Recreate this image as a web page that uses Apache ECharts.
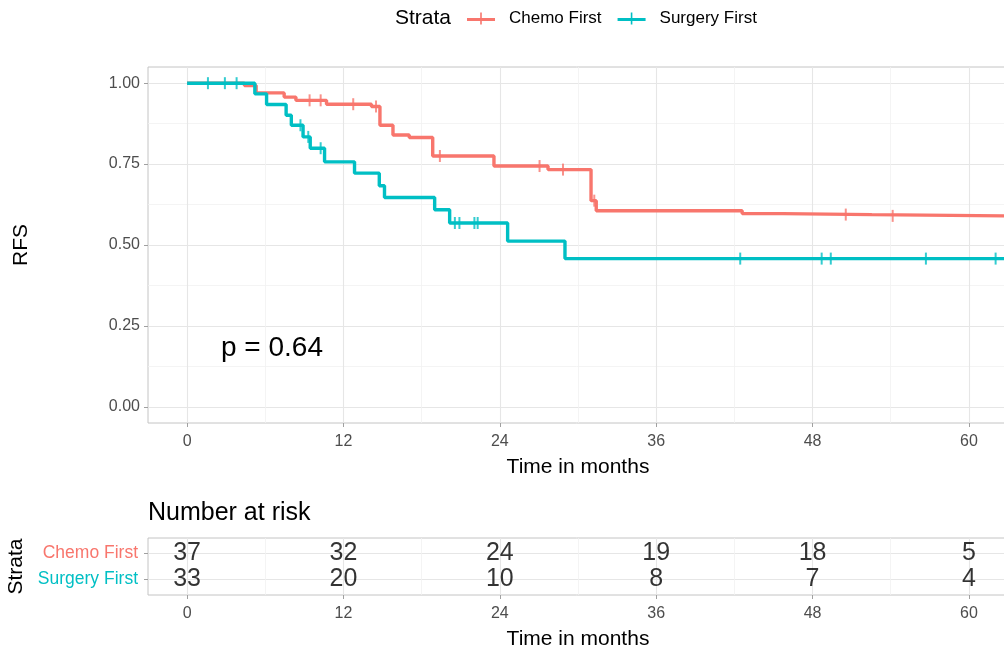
<!DOCTYPE html>
<html><head><meta charset="utf-8">
<script src="https://cdn.jsdelivr.net/npm/echarts@6/dist/echarts.min.js"></script>
<style>html,body{margin:0;padding:0;background:#fff}#c{width:1004px;height:651px}</style>
</head><body><div id="c"></div>
<script>
// ---------- data ----------
const strata = ['Chemo First', 'Surgery First'];
const strataColors = ['#F8766D', '#00BFC4'];

const chemoTimes = [0, 4.4, 5.3, 7.45, 8.35, 10.7, 14.15, 14.8, 15.8, 17.05, 18.85, 23.55, 27.7, 31.0, 31.4, 42.6, 45.7, 52.55, 63];
const chemoSurv  = [1, 0.993, 0.970, 0.957, 0.947, 0.935, 0.928, 0.870, 0.840, 0.832, 0.775, 0.744, 0.733, 0.637, 0.606, 0.597, 0.594, 0.590, 0.590];
const chemoCensor = [9.4, 10.25, 12.75, 14.5, 19.4, 27.05, 28.85, 31.25, 50.55, 54.15];

const surgeryTimes = [0, 5.2, 6.1, 7.6, 8.0, 8.9, 9.45, 10.55, 12.85, 14.75, 15.15, 19.0, 20.15, 24.6, 29.0, 63];
const surgerySurv  = [1, 0.967, 0.934, 0.901, 0.870, 0.834, 0.799, 0.757, 0.722, 0.683, 0.647, 0.609, 0.568, 0.512, 0.458, 0.458];
const surgeryCensor = [1.6, 2.9, 3.8, 8.7, 9.3, 10.25, 20.55, 20.9, 22.05, 22.3, 42.45, 48.7, 49.4, 56.7, 62.05];

const riskTimes = [0, 12, 24, 36, 48, 60];
const chemoRisk = [37, 32, 24, 19, 18, 5];
const surgeryRisk = [33, 20, 10, 8, 7, 4];

const xTicks = [0, 12, 24, 36, 48, 60];
const xMinorTicks = [6, 18, 30, 42, 54];
const yTicks = [0, 0.25, 0.5, 0.75, 1];
const yMinorTicks = [0.125, 0.375, 0.625, 0.875];
const pValueText = 'p = 0.64';

// ---------- helpers ----------
function pairs(t, s) { return t.map((v, i) => [v, s[i]]); }
function survAt(t, s, x) { let v = s[0]; for (let i = 0; i < t.length; i++) { if (t[i] <= x) v = s[i]; } return v; }
function censorPts(c, t, s) { return c.map(x => [x, survAt(t, s, x)]); }

const FONT = 'Liberation Sans, Arial, Helvetica, sans-serif';
const MAJOR = '#E6E6E6', MINOR = '#F1F1F1', BORDER = '#C4C4C4', TICK = '#A0A0A0', TXT = '#4D4D4D';
const XMIN = -3, XMAX = 63;

function xAxisMajor(gi) {
  return {
    type: 'value', gridIndex: gi, min: XMIN, max: XMAX, position: 'bottom',
    axisLine: { show: false, onZero: false },
    axisTick: { show: true, length: 4, customValues: xTicks, lineStyle: { color: TICK } },
    axisLabel: { customValues: xTicks, margin: 11, color: TXT, fontSize: 16, fontFamily: FONT },
    splitLine: { show: true, lineStyle: { color: MAJOR, width: 1.1 } },
    name: 'Time in months', nameLocation: 'middle', nameGap: 34,
    nameTextStyle: { color: '#000', fontSize: 21, fontFamily: FONT }
  };
}
function xAxisMinor(gi) {
  return {
    type: 'value', gridIndex: gi, min: XMIN, max: XMAX, position: 'bottom',
    axisLine: { show: false, onZero: false }, axisLabel: { show: false },
    axisTick: { show: false, customValues: xMinorTicks },
    splitLine: { show: true, lineStyle: { color: MINOR, width: 0.8 } }
  };
}

const series = [];
const survData = [[chemoTimes, chemoSurv, chemoCensor], [surgeryTimes, surgerySurv, surgeryCensor]];
survData.forEach((d, k) => {
  series.push({
    name: strata[k], type: 'line', xAxisIndex: 0, yAxisIndex: 0, step: 'end',
    data: pairs(d[0], d[1]), showSymbol: false, symbol: 'none', clip: true,
    color: strataColors[k], lineStyle: { color: strataColors[k], width: 3.4 }, z: 3 + k
  });
  series.push({
    name: strata[k], type: 'scatter', xAxisIndex: 0, yAxisIndex: 0,
    data: censorPts(d[2], d[0], d[1]), symbol: 'rect', symbolSize: [2, 12],
    color: strataColors[k], itemStyle: { color: strataColors[k] }, z: 5 + k
  });
});
const riskRows = [chemoRisk, surgeryRisk];
const rowPos = [2, 1];
series.push({
  name: 'risk', type: 'scatter', xAxisIndex: 2, yAxisIndex: 2,
  data: [].concat(...riskRows.map((r, k) => r.map((n, i) => [riskTimes[i], rowPos[k], n]))),
  symbolSize: 1, itemStyle: { color: 'rgba(0,0,0,0)' },
  label: { show: true, position: 'inside', formatter: p => String(p.value[2]), color: '#000', textBorderWidth: 0, fontSize: 25, fontFamily: FONT }
});

const option = {
  animation: false,
  backgroundColor: '#fff',
  textStyle: { fontFamily: FONT },
  title: {
    text: 'Number at risk', left: 148, top: 501, padding: 0,
    textStyle: { fontSize: 25, fontWeight: 'normal', color: '#000', fontFamily: FONT }
  },
  legend: {
    left: 467, top: 10, padding: 0, itemGap: 16, itemWidth: 28, itemHeight: 12,
    data: strata.map(s => ({ name: s, icon: 'path://M0,5.5L28,5.5L28,8.5L0,8.5Z M13.2,0L14.8,0L14.8,12L13.2,12Z' })),
    textStyle: { fontSize: 17, color: '#000', fontFamily: FONT, padding: [0, 0, 0, 9] },
    selectedMode: false
  },
  graphic: [
    { type: 'text', left: 395, top: 8, style: { text: 'Strata', fontSize: 21, fill: '#000', fontFamily: FONT } },
    { type: 'text', left: 221, top: 334, style: { text: pValueText, fontSize: 28, fill: '#000', fontFamily: FONT } }
  ],
  grid: [
    { left: 148, right: -4, top: 67, height: 356, show: true, borderColor: BORDER, borderWidth: 1, backgroundColor: 'transparent', containLabel: false, outerBoundsMode: 'none' },
    { left: 148, right: -4, top: 538, height: 57, show: true, borderColor: BORDER, borderWidth: 1, backgroundColor: 'transparent', containLabel: false, outerBoundsMode: 'none' }
  ],
  xAxis: [xAxisMajor(0), xAxisMinor(0), xAxisMajor(1), xAxisMinor(1)],
  yAxis: [
    {
      type: 'value', gridIndex: 0, min: -0.05, max: 1.05, position: 'left',
      axisLine: { show: false, onZero: false },
      axisTick: { show: true, length: 4, customValues: yTicks, lineStyle: { color: TICK } },
      axisLabel: { customValues: yTicks, formatter: v => v.toFixed(2), margin: 8, color: TXT, fontSize: 16, fontFamily: FONT },
      splitLine: { show: true, lineStyle: { color: MAJOR, width: 1.1 } },
      name: 'RFS', nameLocation: 'middle', nameGap: 116, nameRotate: 90,
      nameTextStyle: { color: '#000', fontSize: 21, fontFamily: FONT }
    },
    {
      type: 'value', gridIndex: 0, min: -0.05, max: 1.05, position: 'left',
      axisLine: { show: false, onZero: false }, axisLabel: { show: false },
      axisTick: { show: false, customValues: yMinorTicks },
      splitLine: { show: true, lineStyle: { color: MINOR, width: 0.8 } }
    },
    {
      type: 'value', gridIndex: 1, min: 0.4, max: 2.6, position: 'left',
      axisLine: { show: false, onZero: false },
      axisTick: { show: true, length: 4, customValues: rowPos, lineStyle: { color: TICK } },
      axisLabel: {
        customValues: rowPos, margin: 10, fontSize: 17.5, fontFamily: FONT,
        formatter: v => (v === 2 ? '{a|' + strata[0] + '}' : '{b|' + strata[1] + '}'),
        rich: { a: { color: strataColors[0], fontSize: 17.5, fontFamily: FONT }, b: { color: strataColors[1], fontSize: 17.5, fontFamily: FONT } }
      },
      splitLine: { show: true, lineStyle: { color: MAJOR, width: 1.1 } },
      name: 'Strata', nameLocation: 'middle', nameGap: 116, nameRotate: 90,
      nameTextStyle: { color: '#000', fontSize: 21, fontFamily: FONT }
    }
  ],
  series: series
};
const chart = echarts.init(document.getElementById('c'), null, { renderer: 'canvas' });
chart.setOption(option);
</script></body></html>
